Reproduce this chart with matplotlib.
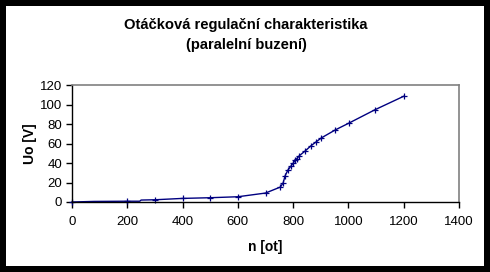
import matplotlib
matplotlib.use("Agg")
import matplotlib.pyplot as plt
from matplotlib.patches import Rectangle

n_ot = [0, 80, 200, 245, 250, 300, 400, 500, 600, 700, 754, 764, 771, 781, 792,
        801, 808, 813, 822, 844, 864, 883, 902, 953, 1003, 1097, 1202]
uo_v = [0, 0.6, 0.8, 0.8, 2.0, 2.3, 3.7, 4.4, 5.4, 9.2, 15.4, 19.8, 27.0, 32.8, 36.9,
        40.3, 43.4, 44.4, 47.5, 52.6, 57.7, 61.8, 65.9, 74.2, 81.3, 95.0, 109.0]

title_lines = ["Otáčková regulační charakteristika", "(paralelní buzení)"]
x_label = "n [ot]"
y_label = "Uo [V]"
x_ticks = [0, 200, 400, 600, 800, 1000, 1200, 1400]
y_ticks = [0, 20, 40, 60, 80, 100, 120]

plt.rcParams['font.family'] = ['Liberation Sans', 'DejaVu Sans']

W, H = 490, 272
fig = plt.figure(figsize=(W / 100, H / 100), dpi=100)
fig.patch.set_facecolor('black')
fig.patches.append(Rectangle((6 / W, 6 / H), 478 / W, 260 / H, transform=fig.transFigure,
                             facecolor='white', edgecolor='none', zorder=-10))

ax = fig.add_axes([72 / W, 1 - 202 / H, (459 - 72) / W, (202 - 85.3) / H])
ax.set_zorder(2)
ax.set_facecolor('white')
marked = [i for i in range(len(n_ot)) if i not in (1, 3, 4)]
ax.plot(n_ot, uo_v, color='#000080', linewidth=1.0, marker='+', markersize=5,
        markeredgewidth=0.9, markevery=marked, clip_on=False)
ax.set_xlim(0, 1400)
ax.set_ylim(0, 120)
ax.set_xticks(x_ticks)
ax.set_yticks(y_ticks)
ax.tick_params(direction='out', length=4, width=1, colors='black', labelsize=9.5)
ax.tick_params(axis='x', pad=6)
ax.tick_params(axis='y', pad=3)
for s in ['left', 'bottom']:
    ax.spines[s].set_color('black')
    ax.spines[s].set_linewidth(1)
for s in ['top', 'right']:
    ax.spines[s].set_color('#808080')
    ax.spines[s].set_linewidth(1.2)

ax.set_xlabel(x_label, fontsize=10, fontweight='bold', labelpad=9)
ax.set_ylabel(y_label, fontsize=10, fontweight='bold', labelpad=2)

fig.text(246 / W, 1 - 25 / H, title_lines[0], ha='center', va='center',
         fontsize=10.6, fontweight='bold', zorder=3)
fig.text(246 / W, 1 - 45 / H, title_lines[1], ha='center', va='center',
         fontsize=10.6, fontweight='bold', zorder=3)

fig.savefig('out.png', dpi=100, facecolor=fig.get_facecolor())
